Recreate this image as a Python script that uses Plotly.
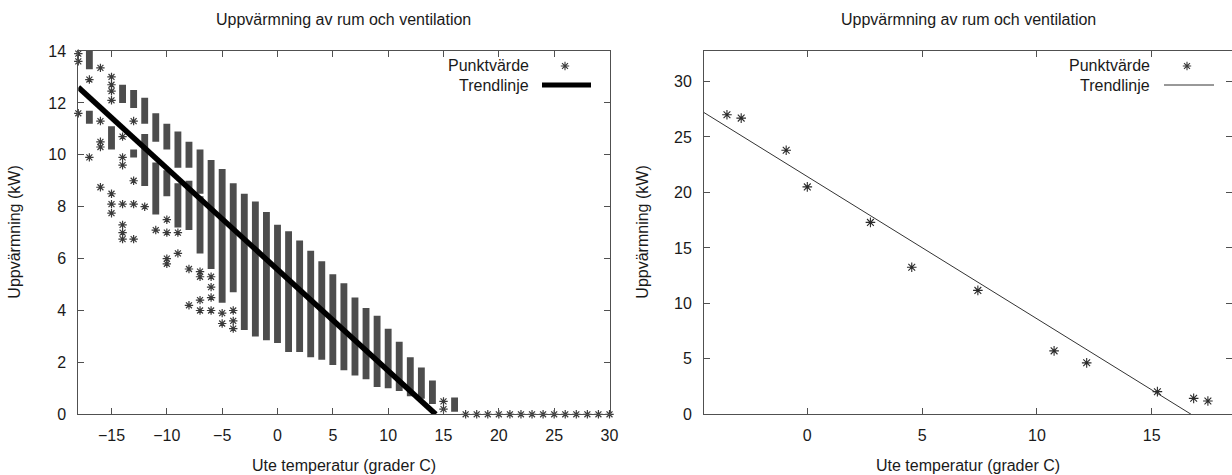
import plotly.graph_objects as go

# ---------------- data: left chart (dense hourly data per integer temperature) ----------------
# solid bands of overlapping points: (temperature, low kW, high kW)
band_x = [-17, -17, -15, -14, -13, -13, -12, -12, -11, -11, -10, -10, -9, -9, -8, -8,
          -7, -7, -6, -5, -4, -3, -2, -1, 0, 1, 2, 3, 4, 5, 6, 7, 8, 9, 10, 11, 12, 13, 14, 16]
band_lo = [13.3, 11.2, 10.2, 12.0, 11.8, 9.9, 11.2, 8.8, 10.5, 7.7, 10.2, 8.4, 9.5, 7.2, 9.5, 7.1,
           8.5, 6.2, 5.6, 4.3, 4.7, 3.25, 3.0, 2.85, 2.75, 2.4, 2.4, 2.2, 2.1, 1.9, 1.7, 1.5, 1.35,
           1.05, 1.0, 0.9, 0.7, 0.6, 0.4, 0.1]
band_hi = [14.0, 11.7, 11.1, 12.7, 12.5, 10.2, 12.2, 10.8, 11.6, 9.7, 11.2, 9.4, 10.9, 8.9, 10.5, 9.0,
           10.2, 8.4, 9.8, 9.45, 8.9, 8.5, 8.2, 7.8, 7.3, 7.05, 6.7, 6.3, 5.9, 5.4, 5.05, 4.5, 4.1,
           3.8, 3.3, 2.8, 2.2, 1.8, 1.3, 0.65]

# isolated points
pt_x = [-18, -18, -18, -17, -17, -16, -16, -16, -16, -16,
        -15, -15, -15, -15, -15, -15, -15,
        -14, -14, -14, -14, -14, -14, -14,
        -13, -13, -13, -13, -12, -11,
        -10, -10, -10, -10, -9, -9, -8, -8,
        -7, -7, -7, -7, -6, -6, -6, -6, -5, -5, -4, -4, -4,
        15, 15,
        17, 18, 19, 20, 21, 22, 23, 24, 25, 26, 27, 28, 29, 30]
pt_y = [13.9, 13.6, 11.6, 12.9, 9.9, 13.35, 11.3, 10.5, 10.3, 8.75,
        13.0, 12.7, 12.45, 12.1, 8.5, 8.1, 7.75,
        10.7, 9.9, 9.6, 8.1, 7.3, 7.0, 6.75,
        11.3, 9.0, 8.1, 6.75, 8.0, 7.1,
        7.5, 7.0, 6.0, 5.8, 7.0, 6.2, 5.6, 4.2,
        5.5, 5.3, 4.4, 4.0, 5.3, 4.9, 4.5, 4.0, 3.9, 3.5, 4.0, 3.6, 3.3,
        0.5, 0.2,
        0, 0, 0, 0, 0, 0, 0, 0, 0, 0, 0, 0, 0, 0]

trend1_x = [-18, 14.3]
trend1_y = [12.6, 0.0]

# ---------------- data: right chart ----------------
r_x = [-3.5, -2.88, -0.92, 0.0, 2.75, 4.55, 7.43, 10.75, 12.17, 15.25, 16.83, 17.45]
r_y = [27.0, 26.7, 23.8, 20.5, 17.3, 13.26, 11.17, 5.72, 4.64, 2.04, 1.44, 1.2]
trend2_x = [-4.5, 16.72]
trend2_y = [27.2, 0.0]

# ticks / labels
title_text = "Uppvärmning av rum och ventilation"
xlabel = "Ute temperatur (grader C)"
ylabel = "Uppvärmning (kW)"
key_points = "Punktvärde"
key_line = "Trendlinje"
left_xticks = [-15, -10, -5, 0, 5, 10, 15, 20, 25, 30]
left_yticks = [0, 2, 4, 6, 8, 10, 12, 14]
right_xticks = [0, 5, 10, 15]
right_yticks = [0, 5, 10, 15, 20, 25, 30]

# ---------------- layout geometry (pixels) ----------------
W, H = 1232, 475
L1, R1 = 78.3, 609.5
L2, R2 = 704.0, 1232.0
TOP, BOT = 51.0, 414.3
FONT = "Liberation Sans, Arial, Helvetica, sans-serif"
TXT = "#1a1a1a"
AX = "#505050"
PT = "#3a3a3a"

def px(v):
    return v / W

def py(v):
    return 1 - v / H

fig = go.Figure()

# left chart
fig.add_trace(go.Bar(x=band_x, y=[h - l for h, l in zip(band_hi, band_lo)], base=band_lo,
                     width=0.62, marker=dict(color="#4d4d4d", line=dict(width=0)),
                     xaxis="x", yaxis="y", showlegend=False, hoverinfo="skip"))
fig.add_trace(go.Scatter(x=pt_x, y=pt_y, mode="markers", xaxis="x", yaxis="y",
                         marker=dict(symbol="asterisk-open", size=7, color=PT,
                                     line=dict(color=PT, width=1.2)),
                         cliponaxis=False, showlegend=False))
fig.add_trace(go.Scatter(x=trend1_x, y=trend1_y, mode="lines", xaxis="x", yaxis="y",
                         line=dict(color="black", width=5.5), showlegend=False))

# right chart
fig.add_trace(go.Scatter(x=r_x, y=r_y, mode="markers", xaxis="x2", yaxis="y2",
                         marker=dict(symbol="asterisk-open", size=8, color="#2a2a2a",
                                     line=dict(color="#2a2a2a", width=1.1)),
                         cliponaxis=False, showlegend=False))
fig.add_trace(go.Scatter(x=trend2_x, y=trend2_y, mode="lines", xaxis="x2", yaxis="y2",
                         line=dict(color="#333333", width=1), showlegend=False))
# right-side tick marks (frame border itself is cropped off)
fig.add_trace(go.Scatter(x=[None], y=[None], xaxis="x2", yaxis="y4", showlegend=False))

# legend key samples (pixel overlay axis)
fig.add_trace(go.Scatter(x=[565, 1187], y=[66, 66], mode="markers", xaxis="x3", yaxis="y3",
                         marker=dict(symbol="asterisk-open", size=7, color=PT,
                                     line=dict(color=PT, width=1.1)),
                         cliponaxis=False, showlegend=False, hoverinfo="skip"))

tickfont = dict(family=FONT, size=16, color=TXT)
common = dict(showgrid=False, zeroline=False, showline=True, linecolor=AX, linewidth=1,
              ticks="inside", ticklen=6, tickwidth=1, tickcolor=AX, tickfont=tickfont,
              automargin=False)

fig.update_layout(
    width=W, height=H, margin=dict(l=0, r=0, t=0, b=0, pad=0, autoexpand=False),
    paper_bgcolor="white", plot_bgcolor="rgba(0,0,0,0)", barmode="overlay",
    xaxis=dict(domain=[px(L1), px(R1)], range=[-18, 30], tickvals=left_xticks,
               mirror="ticks", anchor="y", ticklabelstandoff=6, **common),
    yaxis=dict(domain=[py(BOT), py(TOP)], range=[0, 14], tickvals=left_yticks,
               mirror="ticks", anchor="x", ticklabelstandoff=8, **common),
    xaxis2=dict(domain=[px(L2), px(R2)], range=[-4.5, 18.5], tickvals=right_xticks,
                mirror="ticks", anchor="y2", ticklabelstandoff=6, **common),
    yaxis2=dict(domain=[py(BOT), py(TOP)], range=[0, 32.75], tickvals=right_yticks,
                mirror=False, anchor="x2", ticklabelstandoff=8, **common),
    yaxis4=dict(overlaying="y2", side="right", anchor="x2", range=[0, 32.75],
                tickvals=right_yticks, showticklabels=False, showline=False,
                showgrid=False, zeroline=False, ticks="inside", ticklen=6,
                tickcolor=AX, tickwidth=1, automargin=False),
    xaxis3=dict(domain=[0, 1], range=[0, W], visible=False, anchor="y3", automargin=False),
    yaxis3=dict(domain=[0, 1], range=[H, 0], visible=False, anchor="x3", automargin=False),
)

ann = []
def text(x, y, s, xanchor="center", angle=0):
    ann.append(dict(x=x, y=y, xref="x3", yref="y3", text=s, showarrow=False,
                    xanchor=xanchor, yanchor="middle", textangle=angle,
                    font=dict(family=FONT, size=16, color=TXT)))

text((L1 + R1) / 2, 19, title_text)
text((L2 + R2) / 2, 19, title_text)
text((L1 + R1) / 2, 465, xlabel)
text((L2 + R2) / 2, 465, xlabel)
text(15, (TOP + BOT) / 2, ylabel, angle=-90)
text(643, (TOP + BOT) / 2, ylabel, angle=-90)
text(531, 65, key_points, xanchor="right")
text(531, 85, key_line, xanchor="right")
text(1152, 65, key_points, xanchor="right")
text(1152, 85, key_line, xanchor="right")
fig.update_layout(annotations=ann)

fig.update_layout(shapes=[
    dict(type="line", xref="x3", yref="y3", x0=542, x1=591, y0=85, y1=85,
         line=dict(color="black", width=5)),
    dict(type="line", xref="x3", yref="y3", x0=1164, x1=1214, y0=85, y1=85,
         line=dict(color="#333333", width=1)),
])

fig.write_html("out.html", config={"displayModeBar": False, "staticPlot": True},
               post_script="document.body.style.margin='0';document.body.style.overflow='hidden';")
